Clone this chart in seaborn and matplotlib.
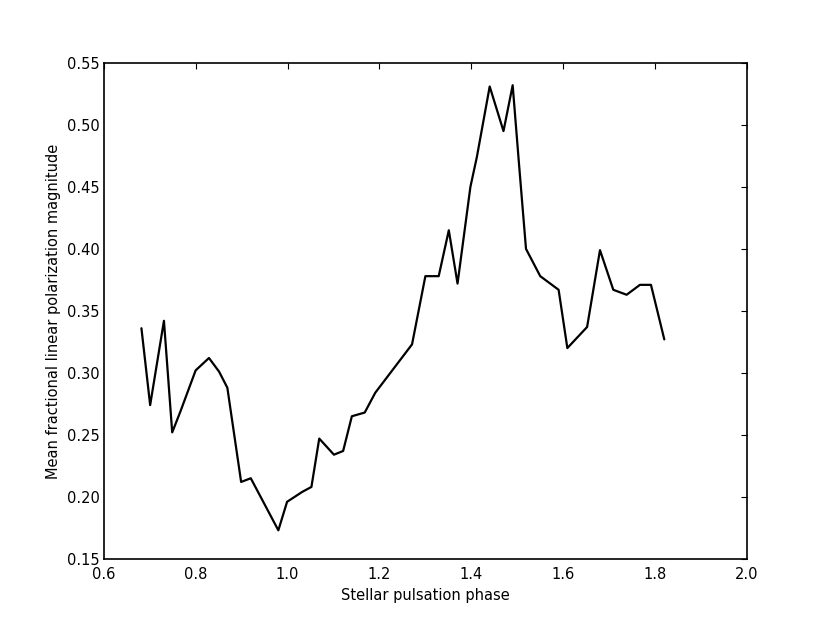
import numpy as np
import pandas as pd
import seaborn as sns
import matplotlib
matplotlib.use("Agg")
import matplotlib.pyplot as plt

# Binned phase vs mean polarization
phase = [0.682, 0.701, 0.731, 0.749, 0.767, 0.800, 0.829, 0.851, 0.869, 0.899,
         0.920, 0.980, 0.999, 1.032, 1.052, 1.069, 1.101, 1.121, 1.140, 1.168,
         1.191, 1.271, 1.300, 1.329, 1.351, 1.370, 1.398, 1.412, 1.440, 1.470,
         1.490, 1.503, 1.519, 1.550, 1.590, 1.609, 1.652, 1.680, 1.709, 1.738,
         1.767, 1.791, 1.820]
polarization = [0.336, 0.274, 0.342, 0.252, 0.269, 0.302, 0.312, 0.301, 0.288, 0.212,
                0.215, 0.173, 0.196, 0.204, 0.208, 0.247, 0.234, 0.237, 0.265, 0.268,
                0.284, 0.323, 0.378, 0.378, 0.415, 0.372, 0.450, 0.474, 0.531, 0.495,
                0.532, 0.472, 0.400, 0.378, 0.367, 0.320, 0.337, 0.399, 0.367, 0.363,
                0.371, 0.371, 0.327]

df = pd.DataFrame({"phase": phase, "pol": polarization})

sns.set_style("white")
plt.rcParams["font.family"] = ["DejaVu Sans"]

fig, ax = plt.subplots(figsize=(8.3, 6.23), dpi=100)
fig.subplots_adjust(left=0.125, right=0.9, bottom=0.103, top=0.899)

sns.lineplot(data=df, x="phase", y="pol", color="black", linewidth=1.6,
             sort=False, estimator=None, ax=ax)

ax.set_xlim(0.6, 2.0)
ax.set_ylim(0.15, 0.55)
ax.set_xticks(np.arange(0.6, 2.01, 0.2))
ax.set_yticks(np.arange(0.15, 0.551, 0.05))
ax.set_xticklabels([f"{v:.1f}" for v in np.arange(0.6, 2.01, 0.2)])
ax.set_yticklabels([f"{v:.2f}" for v in np.arange(0.15, 0.551, 0.05)])
ax.tick_params(direction="in", top=True, right=True, length=4, width=0.8,
               labelsize=10.5, colors="black")
ax.tick_params(axis="y", pad=3)
ax.tick_params(axis="x", pad=6)
for s in ax.spines.values():
    s.set_color("black")
    s.set_linewidth(1.2)

ax.set_xlabel("Stellar pulsation phase", fontsize=10.5, color="black", labelpad=4)
ax.set_ylabel("Mean fractional linear polarization magnitude", fontsize=10.5,
              color="black", labelpad=4)

fig.savefig("out.png", dpi=100)
